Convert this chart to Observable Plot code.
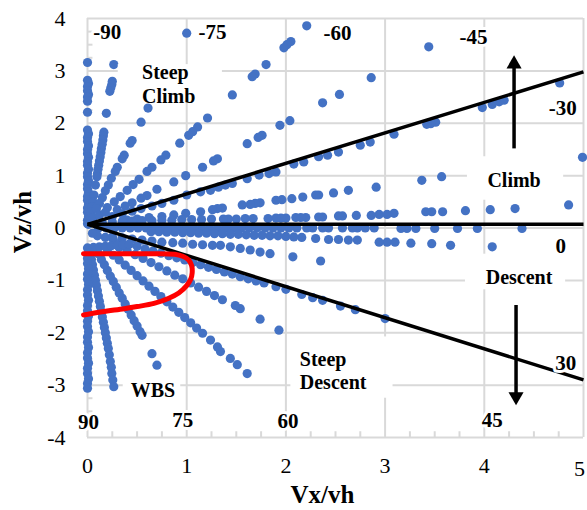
<!DOCTYPE html>
<html>
<head>
<meta charset="utf-8">
<script src="https://cdn.jsdelivr.net/npm/d3@7"></script>
<script src="https://cdn.jsdelivr.net/npm/@observablehq/plot@0.6"></script>
<style>
  html, body { margin: 0; padding: 0; background: #fff; }
  #chart { width: 587px; height: 510px; }
</style>
</head>
<body>
<div id="chart"></div>
<script>
// ---------- tick labels ----------
const xTicks = [0, 1, 2, 3, 4, 5];
const yTicks = [-4, -3, -2, -1, 0, 1, 2, 3, 4];

// ---------- data points per flight-path ray, [Vx/vh, Vz/vh] ----------
const climb90 = [[0,3.16],[0,2.82],[0.01,2.76],[0,2.7],[0,2.62],[0.01,2.55],[0,2.5],[0,2.42],[0,2.21],
  [0,1.87],[0.01,1.8],[0,1.73],[0,1.65],[0.01,1.57],[0,1.5],[0,1.42],[0.01,1.35],[0,1.27],[0,1.2],
  [0.01,1.12],[0,1.05],[0,0.98],[0.01,0.9],[0,0.83],[0,0.75],[0.01,0.68],[0,0.6],[0,0.53],[0.01,0.45],
  [0,0.38],[0,0.3],[0.01,0.22],[0,0.15],[0,0.08]];
const climb85 = [[0.265,3.12],[0.25,2.8],[0.245,2.74],[0.235,2.68],[0.225,2.61],[0.19,2.19],[0.165,1.83],
  [0.16,1.76],[0.155,1.68],[0.148,1.6],[0.14,1.52],[0.135,1.44],[0.128,1.36],[0.12,1.28],[0.113,1.2],
  [0.106,1.12],[0.1,1.04],[0.095,0.98],[0.08,0.82],[0.065,0.63],[0.055,0.5],[0.045,0.4],[0.035,0.3]];
const climb75 = [[1.0,3.72],[0.61,2.29],[0.54,2.02],[0.45,1.67],[0.43,1.62],[0.37,1.39],[0.35,1.32],
  [0.3,1.16],[0.28,1.08],[0.24,0.95],[0.21,0.82],[0.18,0.71],[0.15,0.58],[0.12,0.47],[0.09,0.37]];
const climb60 = [[2.21,3.86],[2.05,3.56],[2.01,3.5],[1.98,3.44],[1.8,3.12],[1.69,2.94],[1.66,2.89],
  [1.46,2.54],[1.21,2.1],[1.11,1.93],[1.06,1.84],[1.02,1.77],[0.93,1.62],[0.79,1.39],[0.74,1.3],
  [0.65,1.16],[0.6,1.08],[0.52,0.93],[0.46,0.83],[0.4,0.72],[0.33,0.6],[0.27,0.5],[0.2,0.39]];
const climb45 = [[3.44,3.46],[2.86,2.87],[2.54,2.55],[2.37,2.39],[2.04,2.05],[1.94,1.96],[1.76,1.77],
  [1.72,1.73],[1.61,1.61],[1.31,1.32],[1.27,1.28],[1.16,1.16],[0.99,1.0],[0.87,0.88],[0.7,0.74],
  [0.6,0.62],[0.54,0.57],[0.45,0.48],[0.38,0.42],[0.3,0.35]];
const climb30 = [[4.76,2.77],[4.2,2.44],[4.15,2.41],[4.08,2.36],[3.98,2.3],[3.51,2.02],[3.46,1.99],
  [3.42,1.98],[3.09,1.79],[2.85,1.64],[2.75,1.58],[2.53,1.45],[2.42,1.39],[2.33,1.36],[2.18,1.26],
  [2.08,1.22],[1.9,1.07],[1.83,1.04],[1.73,1.01],[1.61,0.94],[1.46,0.85],[1.39,0.82],[1.32,0.78],
  [1.24,0.72],[1.14,0.69],[1.0,0.63],[0.87,0.53],[0.75,0.47],[0.65,0.42],[0.54,0.37],[0.45,0.32],
  [0.35,0.27],[0.25,0.22]];
const climb15 = [[4.99,1.35],[3.57,0.98],[3.37,0.91],[2.91,0.78],[2.63,0.72],[2.48,0.67],[2.33,0.63],
  [2.3,0.63],[2.17,0.59],[2.06,0.56],[1.96,0.54],[1.9,0.53],[1.74,0.48],[1.69,0.47],[1.64,0.45],
  [1.56,0.44],[1.36,0.38],[1.31,0.37],[1.26,0.35],[1.14,0.31],[0.99,0.28],[0.87,0.25],[0.75,0.22],
  [0.62,0.2],[0.5,0.17],[0.4,0.15]];
const climb5 = [[4.85,0.44],[4.31,0.37],[4.06,0.35],[3.81,0.33],[3.58,0.31],[3.47,0.31],[3.41,0.31],
  [3.09,0.28],[3.02,0.26],[2.94,0.26],[2.86,0.24],[2.71,0.24],[2.57,0.23],[2.53,0.23],[2.37,0.21],
  [2.33,0.21],[2.2,0.2],[2.15,0.2],[2.1,0.2],[2.0,0.19],[1.95,0.19],[1.9,0.19],[1.82,0.18],[1.67,0.18],
  [1.59,0.18],[1.5,0.17],[1.42,0.17],[1.37,0.17],[1.25,0.17],[1.15,0.16],[1.05,0.16],[0.95,0.16],
  [0.85,0.15],[0.75,0.15],[0.65,0.14],[0.55,0.14],[0.45,0.13],[0.35,0.13],[0.25,0.12],[0.15,0.1]];
const level0 = [[4.38,-0.01],[3.93,-0.01],[3.73,-0.01],[3.5,-0.01],[3.31,-0.01],[3.22,-0.01],[3.16,-0.01],
  [2.89,0],[2.8,0],[2.72,0],[2.67,0],[2.57,0],[2.43,0],[2.37,0],[2.27,0],[2.21,0],[2.11,0],[2.03,0],
  [1.95,0],[1.87,0],[1.79,0],[1.71,0],[1.63,0],[1.55,0],[1.47,0],[1.39,0],[1.31,0],[1.23,0],[1.15,0],
  [1.07,0],[0.99,0],[0.91,0],[0.83,0],[0.75,0],[0.67,0],[0.59,0],[0.51,0],[0.43,0],[0.35,0],[0.27,0],
  [0.19,0],[0.11,0],[0.01,0.07]];
const desc5 = [[4.08,-0.36],[3.66,-0.33],[3.47,-0.3],[3.26,-0.29],[3.1,-0.27],[3.02,-0.27],[2.94,-0.27],
  [2.72,-0.23],[2.63,-0.23],[2.53,-0.22],[2.43,-0.22],[2.3,-0.2],[2.16,-0.18],[2.08,-0.17],[2.0,-0.16],
  [1.92,-0.15],[1.84,-0.15],[1.76,-0.14],[1.68,-0.14],[1.6,-0.13],[1.52,-0.12],[1.44,-0.12],[1.36,-0.11],
  [1.28,-0.11],[1.2,-0.1],[1.12,-0.1],[1.04,-0.09],[0.96,-0.09],[0.88,-0.08],[0.8,-0.08],[0.72,-0.07],
  [0.64,-0.07]];
const desc15 = [[2.35,-0.63],[2.07,-0.55],[1.84,-0.49],[1.74,-0.46],[1.64,-0.42],[1.54,-0.39],[1.44,-0.36],
  [1.34,-0.33],[1.26,-0.33],[1.16,-0.32],[1.06,-0.31],[0.96,-0.29],[0.86,-0.28],[0.75,-0.27],[0.65,-0.25],
  [0.55,-0.23],[0.45,-0.21],[0.35,-0.19],[0.25,-0.17]];
const desc30 = [[3.0,-1.73],[2.7,-1.56],[2.55,-1.49],[2.37,-1.38],[2.27,-1.33],[2.16,-1.27],[2.0,-1.17],
  [1.9,-1.12],[1.78,-1.05],[1.7,-1.01],[1.62,-0.97],[1.54,-0.93],[1.46,-0.88],[1.38,-0.84],[1.3,-0.79],
  [1.22,-0.75],[1.14,-0.7],[1.06,-0.66],[0.98,-0.61],[0.9,-0.57],[0.82,-0.53],[0.74,-0.48],[0.66,-0.44],
  [0.58,-0.4],[0.5,-0.35],[0.42,-0.31],[0.34,-0.27],[0.26,-0.22],[0.18,-0.18]];
const desc45 = [[1.93,-1.95],[1.74,-1.74],[1.54,-1.54],[1.49,-1.48],[1.36,-1.37],[1.28,-1.29],[1.2,-1.21],
  [1.12,-1.13],[1.04,-1.05],[0.96,-0.97],[0.88,-0.9],[0.8,-0.82],[0.72,-0.74],[0.64,-0.66],[0.56,-0.58],
  [0.48,-0.51],[0.4,-0.44],[0.32,-0.37]];
const desc60 = [[1.61,-2.78],[1.51,-2.61],[1.44,-2.49],[1.34,-2.36],[1.31,-2.27],[1.24,-2.14],[1.16,-2.01],
  [1.1,-1.91],[1.04,-1.81],[0.98,-1.71],[0.92,-1.61],[0.86,-1.51],[0.8,-1.41],[0.74,-1.31],[0.68,-1.21],
  [0.62,-1.11],[0.56,-1.01],[0.5,-0.91],[0.44,-0.81],[0.38,-0.71],[0.32,-0.61],[0.26,-0.52],[0.2,-0.42]];
const desc75 = [[0.7,-2.62],[0.65,-2.4],[0.55,-2.05],[0.53,-1.98],[0.5,-1.87],[0.47,-1.77],[0.44,-1.66],
  [0.41,-1.55],[0.38,-1.45],[0.35,-1.34],[0.32,-1.24],[0.29,-1.13],[0.26,-1.02],[0.23,-0.92],[0.2,-0.81],
  [0.17,-0.7],[0.14,-0.6],[0.11,-0.49]];
const desc85 = [[0.03,-0.5],[0.04,-0.6],[0.05,-0.7],[0.06,-0.8],[0.07,-0.9],[0.08,-1.0],[0.09,-1.1],
  [0.1,-1.2],[0.11,-1.3],[0.12,-1.4],[0.13,-1.5],[0.14,-1.6],[0.15,-1.7],[0.16,-1.8],[0.17,-1.9],
  [0.18,-2.0],[0.19,-2.1],[0.2,-2.2],[0.21,-2.3],[0.22,-2.42],[0.23,-2.55],[0.24,-2.66],[0.245,-2.78],
  [0.255,-2.9],[0.265,-3.03]];
const desc90 = [[0,-0.38],[0.01,-0.48],[0,-0.58],[0,-0.68],[0.01,-0.78],[0,-0.88],[0,-0.98],[0.01,-1.08],
  [0,-1.18],[0,-1.28],[0.01,-1.38],[0,-1.48],[0,-1.58],[0.01,-1.68],[0,-1.78],[0,-1.88],[0.01,-1.98],
  [0,-2.08],[0,-2.18],[0.01,-2.28],[0,-2.38],[0,-2.48],[0.01,-2.58],[0,-2.68],[0,-2.78],[0.01,-2.88],
  [0,-2.97],[0,-3.06]];
const nearOrigin = [[0.06,-0.37],[0.12,-0.36],[0.18,-0.35],[0.24,-0.34],[0.3,-0.33],[0.36,-0.32],
  [0.42,-0.31],[0.06,0.2],[0.12,0.25],[0.18,0.3],[0.1,-0.15],[0.05,-0.1]];

// ---------- WBS boundary (red) ----------
const wbsX = [-0.04, 0.3, 0.6, 0.88, 0.96, 1.02, 1.05, 1.055, 1.04, 1.0, 0.92, 0.82, 0.67, 0.5, 0.37, 0.15, -0.04];
const wbsY = [-0.49, -0.49, -0.49, -0.5, -0.54, -0.61, -0.72, -0.86, -0.98, -1.1, -1.24, -1.34, -1.44, -1.5, -1.54, -1.6, -1.66];

// ---------- reference lines (black): from origin to right edge ----------
const refOrigin = [0, 0.07];
const refEndX = [5, 5, 5];
const refEndY = [2.98, 0.07, -2.9];

// ---------- arrows ----------
const arrowX = [4.3, 4.32];
const arrowFrom = [1.52, -1.47];
const arrowTo = [3.13, -3.22];
const arrowRotate = [0, 180];

// ---------- annotation labels ----------
const angleText = ["-90", "-75", "-60", "-45", "-30", "0", "30", "45", "60", "75", "90"];
const angleX = [0.2, 1.26, 2.52, 3.89, 4.79, 4.77, 4.82, 4.08, 2.02, 0.96, 0.01];
const angleY = [3.74, 3.74, 3.72, 3.64, 2.29, -0.35, -2.58, -3.67, -3.69, -3.67, -3.71];

const regionText = ["Steep\nClimb", "Steep\nDescent"];
const regionX = [0.55, 2.14];
const regionY = [2.76, -2.71];
const centerText = ["Climb", "Descent", "WBS"];
const centerX = [4.3, 4.35, 0.66];
const centerY = [0.91, -0.94, -3.1];

// white text boxes: x1, x2, y1, y2
const boxX1 = [0.31, 3.83, 3.81, 2.05, 0.36];
const boxX2 = [1.36, 4.8, 4.82, 3.08, 0.94];
const boxY1 = [2.38, 0.53, -0.5, -2.08, -2.85];
const boxY2 = [3.12, 1.36, -1.18, -3.25, -3.3];

// ---------- build tables ----------
const dots = [climb90, climb85, climb75, climb60, climb45, climb30, climb15, climb5, level0,
  desc5, desc15, desc30, desc45, desc60, desc75, desc85, desc90, nearOrigin]
  .flat().map(([x, y]) => ({x, y}));
const wbs = wbsX.map((x, i) => ({x, y: wbsY[i]}));
const refLines = refEndX.map((x, i) => ({x1: refOrigin[0], y1: refOrigin[1], x2: x, y2: refEndY[i]}));
const arrows = arrowX.map((x, i) => ({x, from: arrowFrom[i], to: arrowTo[i], rot: arrowRotate[i]}));
const angles = angleText.map((t, i) => ({t, x: angleX[i], y: angleY[i]}));
const regions = regionText.map((t, i) => ({t, x: regionX[i], y: regionY[i]}));
const centers = centerText.map((t, i) => ({t, x: centerX[i], y: centerY[i]}));
const boxes = boxX1.map((x1, i) => ({x1, x2: boxX2[i], y1: boxY1[i], y2: boxY2[i]}));
const xMinor = d3.range(0, 5.001, 0.25).filter(v => v % 1 !== 0);
const yMinor = d3.range(-4, 4.001, 0.25).filter(v => v % 1 !== 0);
const xTicksInner = xTicks.slice(0, -1);
const xTickLast = xTicks.slice(-1);

const GRID = "#d9d9d9";
const FONT = "Liberation Serif, Times New Roman, serif";
const fmt = d => String(d);

const chart = Plot.plot({
  width: 587,
  height: 510,
  marginLeft: 87,
  marginRight: 4,
  marginTop: 18,
  marginBottom: 73,
  style: {fontFamily: FONT, background: "white", color: "black"},
  x: {domain: [0, 5]},
  y: {domain: [-4, 4]},
  marks: [
    Plot.gridX(xTicks, {stroke: GRID, strokeOpacity: 1, strokeWidth: 2}),
    Plot.gridY(yTicks, {stroke: GRID, strokeOpacity: 1, strokeWidth: 2}),
    Plot.ruleX(xMinor, {y1: -4, y2: -3.89, stroke: GRID, strokeWidth: 2}),
    Plot.ruleY(yMinor, {x1: 0, x2: 0.055, stroke: GRID, strokeWidth: 2}),
    Plot.axisX(xTicksInner, {tickSize: 0, tickPadding: 20, fontSize: 22, label: null, tickFormat: fmt}),
    Plot.text(xTickLast, {x: d => d, frameAnchor: "bottom", lineAnchor: "middle", dy: 31, dx: -4, fontSize: 22, text: fmt, fill: "black"}),
    Plot.axisY(yTicks, {tickSize: 0, tickPadding: 22, fontSize: 22, label: null, tickFormat: fmt}),
    Plot.dot(dots, {x: "x", y: "y", r: 4.6, fill: "#4472C4"}),
    Plot.link(refLines, {x1: "x1", y1: "y1", x2: "x2", y2: "y2", stroke: "black", strokeWidth: 3.5}),
    Plot.line(wbs, {x: "x", y: "y", stroke: "#ff0000", strokeWidth: 5, curve: "catmull-rom"}),
    Plot.link(arrows, {x1: "x", x2: "x", y1: "from", y2: "to", stroke: "black", strokeWidth: 3.5}),
    Plot.dot(arrows, {x: "x", y: "to", symbol: "triangle", r: 5.6, fill: "black", rotate: "rot"}),
    Plot.rect(boxes, {x1: "x1", x2: "x2", y1: "y1", y2: "y2", fill: "white"}),
    Plot.text(angles, {x: "x", y: "y", text: "t", fontSize: 21, fontWeight: "bold", fill: "white", stroke: "white", strokeWidth: 6}),
    Plot.text(angles, {x: "x", y: "y", text: "t", fontSize: 21, fontWeight: "bold", fill: "black"}),
    Plot.text(regions, {x: "x", y: "y", text: "t", fontSize: 20, fontWeight: "bold", fill: "black", textAnchor: "start", lineHeight: 1.17}),
    Plot.text(centers, {x: "x", y: "y", text: "t", fontSize: 20, fontWeight: "bold", fill: "black"}),
    Plot.text(["Vx/vh"], {frameAnchor: "bottom", textAnchor: "middle", lineAnchor: "middle", dx: -13, dy: 57, fontSize: 25, fontWeight: "bold", fill: "black"}),
    Plot.text(["Vz/vh"], {frameAnchor: "left", textAnchor: "middle", lineAnchor: "middle", dx: -65, dy: -6, rotate: -90, fontSize: 25, fontWeight: "bold", fill: "black"})
  ]
});
document.getElementById("chart").appendChild(chart);
</script>
</body>
</html>
